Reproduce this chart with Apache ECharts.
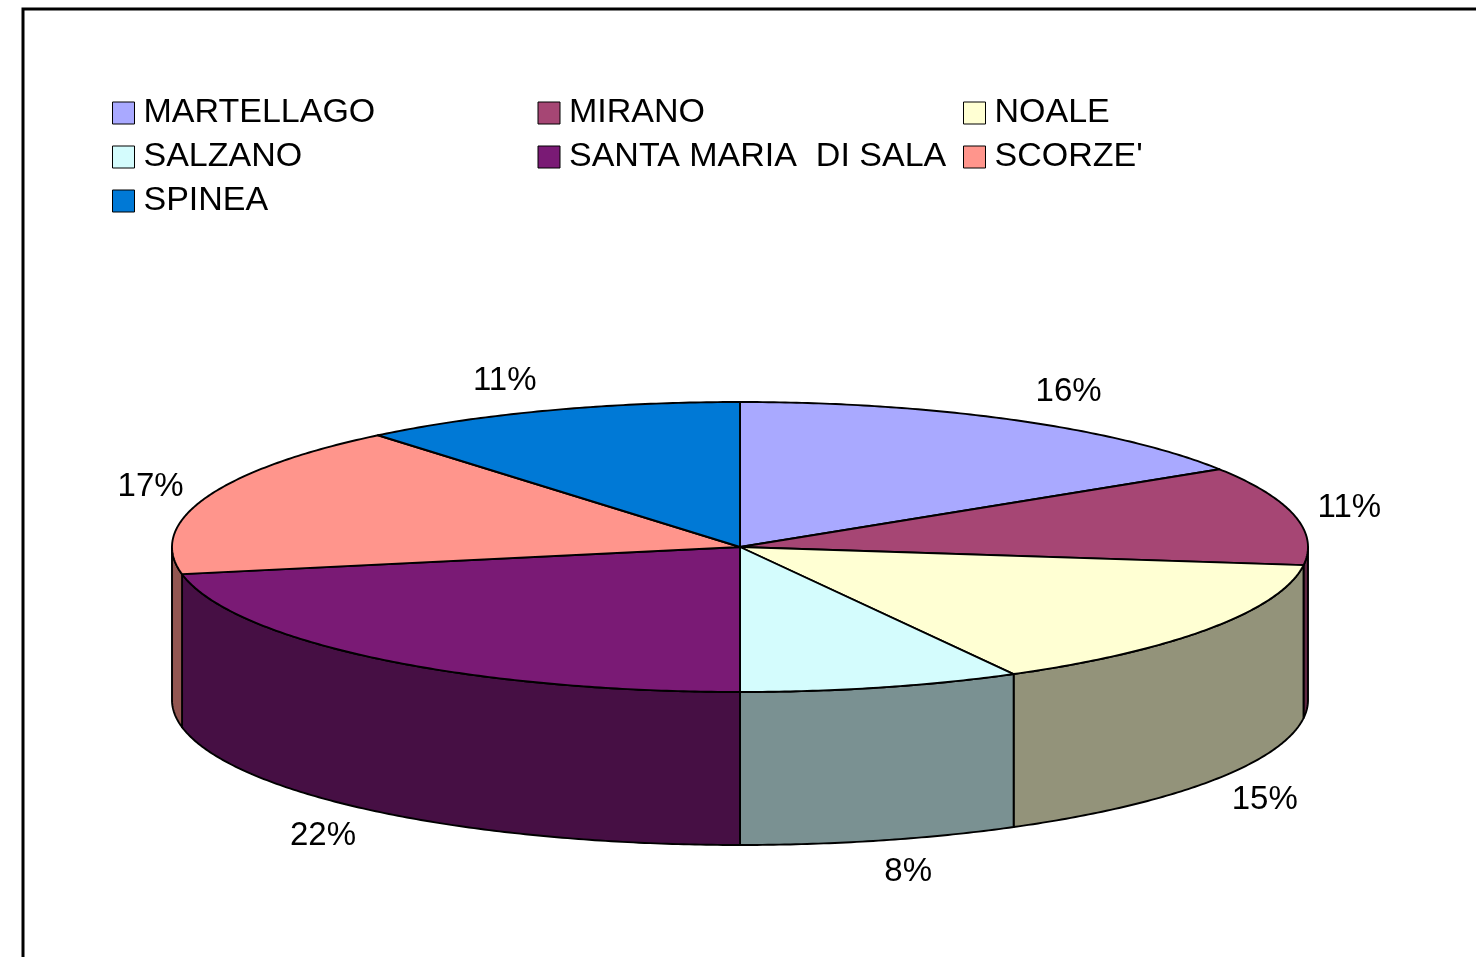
<!DOCTYPE html>
<html>
<head>
<meta charset="utf-8">
<script src="https://cdn.jsdelivr.net/npm/echarts@6/dist/echarts.min.js"></script>
<style>
  html, body { margin: 0; padding: 0; background: #fff; }
  #chart { width: 1476px; height: 957px; }
</style>
</head>
<body>
<div id="chart"></div>
<script>
// dati
var comuni = ['MARTELLAGO', 'MIRANO', 'NOALE', 'SALZANO', 'SANTA MARIA  DI SALA', "SCORZE'", 'SPINEA']
var quote = [16, 11, 15, 8, 22, 17, 11]
var colori = ['#A9A9FF', '#A64674', '#FFFFD3', '#D4FCFD', '#7A1A75', '#FF958C', '#0079D6']

var totale = quote.reduce(function (a, b) { return a + b }, 0)
var inizio = []
var acc = 0
for (var i = 0; i < quote.length; i++) {
  inizio.push(acc / totale)
  acc += quote[i]
}

// geometria della torta (ellisse)
var cx = 740
var cy = 547
var rx = 568
var ry = 145
var spessore = 153

function scuro (hex, f) {
  var n = parseInt(hex.slice(1), 16)
  var r = Math.round(((n >> 16) & 255) * f)
  var g = Math.round(((n >> 8) & 255) * f)
  var b = Math.round((n & 255) * f)
  return 'rgb(' + r + ',' + g + ',' + b + ')'
}

function punto (t, dy) {
  return [cx + rx * Math.sin(t), cy - ry * Math.cos(t) + (dy || 0)]
}

function arco (a, b, dy) {
  var pts = []
  var n = Math.max(4, Math.ceil(Math.abs(b - a) / 0.01))
  for (var k = 0; k <= n; k++) {
    pts.push(punto(a + (b - a) * k / n, dy))
  }
  return pts
}

function angoli (idx, val) {
  var a = inizio[idx] * Math.PI * 2
  var b = a + val / totale * Math.PI * 2
  return [a, b]
}

// lati (parte anteriore)
function renderLato (params, api) {
  var idx = params.dataIndex
  var ang = angoli(idx, api.value(0))
  var s = Math.max(ang[0], Math.PI / 2)
  var e = Math.min(ang[1], Math.PI * 3 / 2)
  if (e <= s) return { type: 'group', children: [] }
  var pts = arco(s, e, 0).concat(arco(e, s, spessore))
  return {
    type: 'polygon',
    shape: { points: pts },
    style: { fill: scuro(colori[idx], 0.577), stroke: '#000', lineWidth: 1.9, lineJoin: 'round' }
  }
}

// superficie superiore + etichette
function renderTop (params, api) {
  var idx = params.dataIndex
  var ang = angoli(idx, api.value(0))
  var pts = [[cx, cy]].concat(arco(ang[0], ang[1], 0))
  var m = (ang[0] + ang[1]) / 2
  var sn = Math.sin(m)
  var cs = Math.cos(m)
  // punto sul bordo, poi spostamento verso l'esterno
  var bordo = punto(m, cs < 0 ? spessore : 0)
  var lx = bordo[0] + 55 * (sn < 0 ? -1 : 1) * Math.pow(Math.min(1, Math.abs(sn) / 0.4), 1.5)
  var ly = bordo[1] - 32 * cs
  return {
    type: 'group',
    children: [
      {
        type: 'polygon',
        shape: { points: pts },
        style: { fill: colori[idx], stroke: '#000', lineWidth: 1.9, lineJoin: 'round' }
      },
      {
        type: 'text',
        x: lx,
        y: ly,
        style: {
          text: Math.round(api.value(0) / totale * 100) + '%',
          fontFamily: 'Liberation Sans, Arial, sans-serif',
          fontSize: 33,
          fill: '#000',
          align: 'center',
          verticalAlign: 'middle'
        }
      }
    ]
  }
}

var myChart = echarts.init(document.getElementById('chart'))
var option = {
  backgroundColor: '#fff',
  animation: false,
  graphic: [
    {
      type: 'rect',
      shape: { x: 23, y: 9, width: 1500, height: 1000 },
      style: { fill: 'none', stroke: '#000', lineWidth: 3 }
    }
  ],
  legend: {
    left: 112,
    top: 91,
    width: 1290,
    padding: 0,
    itemGap: 0,
    itemWidth: 22,
    itemHeight: 22,
    icon: 'rect',
    selectedMode: false,
    itemStyle: { borderColor: '#000', borderWidth: 1 },
    textStyle: {
      fontFamily: 'Liberation Sans, Arial, sans-serif',
      fontSize: 34,
      color: '#000',
      width: 394,
      lineHeight: 44,
      padding: [0, 0, 0, 4]
    },
    data: comuni
  },
  series: [
    {
      type: 'pie',
      silent: true,
      radius: [0, 0],
      center: [cx, cy],
      label: { show: false },
      labelLine: { show: false },
      data: comuni.map(function (n, i) {
        return { name: n, value: quote[i], itemStyle: { color: colori[i] } }
      })
    },
    {
      type: 'custom',
      coordinateSystem: 'none',
      silent: true,
      renderItem: renderLato,
      data: quote
    },
    {
      type: 'custom',
      coordinateSystem: 'none',
      silent: true,
      renderItem: renderTop,
      data: quote
    }
  ]
}
myChart.setOption(option)
</script>
</body>
</html>
